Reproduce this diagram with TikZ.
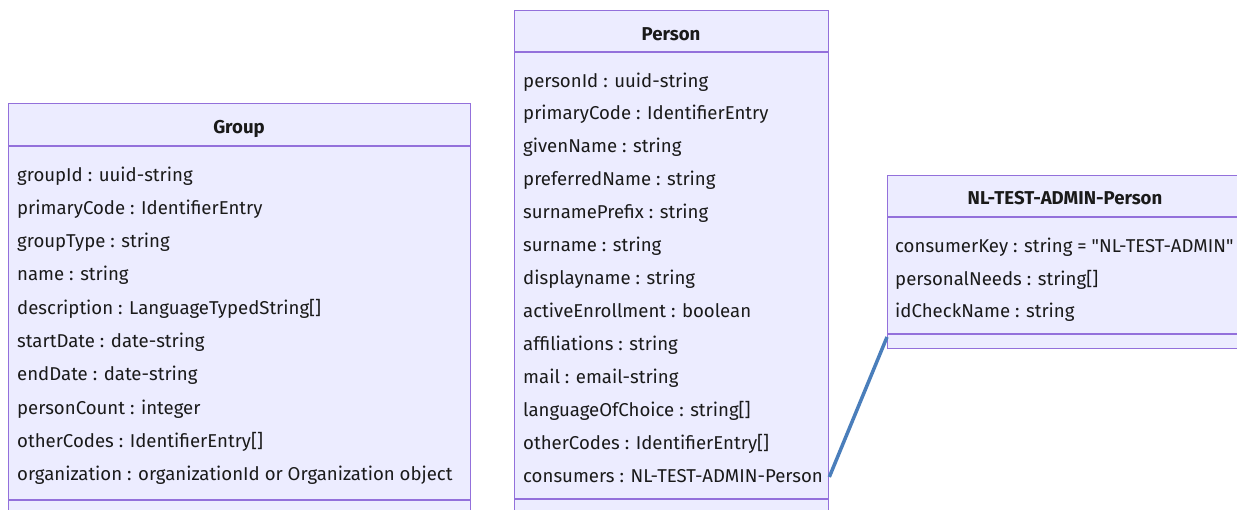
\documentclass[tikz,border=0pt]{standalone}
\usepackage{fontspec}
\setmainfont{Fira Sans}
\definecolor{boxfill}{HTML}{ECECFF}
\definecolor{boxline}{HTML}{9370DB}
\definecolor{txt}{HTML}{1A1A1A}
\definecolor{link}{HTML}{4A7EBB}
\begin{document}
\begin{tikzpicture}[x=1pt,y=-1pt,
  box/.style={draw=boxline,fill=boxfill,line width=1.3pt,rectangle,inner sep=0pt,anchor=north west},
  sep/.style={draw=boxline,line width=1.3pt},
  attr/.style={anchor=base west,inner sep=0pt,text=txt,font=\fontsize{18.6}{22}\selectfont},
  title/.style={anchor=base,inner sep=0pt,text=txt,font=\fontsize{18.6}{22}\selectfont\bfseries},
  conn/.style={draw=link,line width=3.5pt}]
\useasboundingbox (0,0) rectangle (1237,509);
\clip (0,0) rectangle (1237,509);
% Group
\node[box,minimum width=462pt,minimum height=460pt] (group) at (8,103) {};
\draw[sep] (8,146) -- (470,146);
\draw[sep] (8,500) -- (470,500);
\node[title] (gt) at (239,133) {Group};
\foreach \t [count=\i from 0] in {groupId : uuid-string,primaryCode : IdentifierEntry,groupType : string,name : string,description : LanguageTypedString[],startDate : date-string,endDate : date-string,personCount : integer,otherCodes : IdentifierEntry[],organization : organizationId or Organization object}
  \node[attr] (g\i) at (17,181+33.33*\i) {\t};
% Person
\node[box,minimum width=314pt,minimum height=560pt] (person) at (514,10) {};
\draw[sep] (514,52) -- (828,52);
\draw[sep] (514,499) -- (828,499);
\node[title] (pt) at (671,40) {Person};
\foreach \t [count=\i from 0] in {personId : uuid-string,primaryCode : IdentifierEntry,givenName : string,preferredName : string,surnamePrefix : string,surname : string,displayname : string,activeEnrollment : boolean,affiliations : string,mail : email-string,languageOfChoice : string[],otherCodes : IdentifierEntry[],consumers : NL-TEST-ADMIN-Person}
  \node[attr] (p\i) at (523,87+32.92*\i) {\t};
% NL-TEST-ADMIN-Person
\node[box,minimum width=370pt,minimum height=173pt] (nl) at (887,175) {};
\draw[sep] (887,217) -- (1257,217);
\draw[sep] (887,334) -- (1257,334);
\node[title] (nt) at (1065,204) {NL-TEST-ADMIN-Person};
\node[attr] (n0) at (895,252) {consumerKey : string = \textquotedbl NL-TEST-ADMIN\textquotedbl};
\node[attr] (n1) at (895,285) {personalNeeds : string[]};
\node[attr] (n2) at (895,317) {idCheckName : string};
% connector
\coordinate (pc) at (person.east |- 0,477);
\coordinate (nc) at (nl.west |- 0,337);
\draw[conn] (pc) -- (nc);
\end{tikzpicture}
\end{document}
